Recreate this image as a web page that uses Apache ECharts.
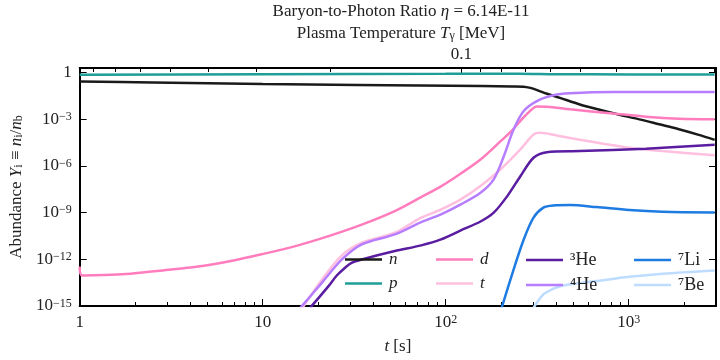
<!DOCTYPE html>
<html>
<head>
<meta charset="utf-8">
<script src="https://cdn.jsdelivr.net/npm/echarts@6/dist/echarts.min.js"></script>
<style>html,body{margin:0;padding:0;background:#fff}#chart{width:720px;height:360px}</style>
</head>
<body>
<div id="chart"></div>
<script>
// abundances Y_i, time in seconds
var nTime = [1, 2.5, 10, 107, 230, 266, 290, 316, 358, 421, 541, 694, 891, 1143, 1467, 1882, 2415, 2950];
var nVal = [0.276, 0.238, 0.185, 0.146, 0.13, 0.126, 0.105, 0.076, 0.044, 0.024, 9.1e-3, 4.1e-3, 1.95e-3, 1.0e-3, 4.8e-4, 2.3e-4, 1.0e-4, 4.8e-5];
var pTime = [1, 10, 100, 250, 400, 1000, 2950];
var pVal = [0.74, 0.8, 0.84, 0.86, 0.8, 0.77, 0.77];
var dTime = [1, 1.03, 1.9, 2.9, 4.35, 6.6, 10, 15.1, 22.9, 34.8, 52.7, 73.5, 94.3, 121, 155, 199, 230, 256, 290, 315, 357, 477, 819, 1242, 1882, 2950];
var dVal = [3.5e-13, 9.3e-14, 1.2e-13, 2.0e-13, 3.3e-13, 7.6e-13, 2.2e-12, 7.1e-12, 3.1e-11, 1.7e-10, 1.26e-9, 1.0e-8, 4.9e-8, 3.3e-7, 2.6e-6, 3.8e-5, 1.9e-4, 8.0e-4, 3.6e-3, 6.6e-3, 6.5e-3, 4.4e-3, 2.4e-3, 1.48e-3, 1.1e-3, 1.0e-3];
var tTime = [16, 21.1, 27.1, 34.8, 52.7, 73.5, 94.3, 121, 155, 199, 256, 302, 328, 439, 666, 1009, 1528, 2950];
var tVal = [4.4e-16, 5.1e-14, 1.8e-12, 1.17e-11, 5.1e-11, 4.8e-10, 1.6e-9, 7.1e-9, 5.1e-8, 6.0e-7, 1.17e-5, 1.07e-4, 1.38e-4, 7.6e-5, 3.2e-5, 1.5e-5, 9.1e-6, 4.9e-6];
var he3Time = [18.2, 22.9, 25.4, 28.2, 30.6, 34.8, 52.7, 73.5, 94.3, 121, 155, 183, 217, 256, 302, 357, 541, 1242, 2950];
var he3Val = [7.8e-16, 1.9e-14, 9.1e-14, 2.9e-13, 5.9e-13, 9.8e-13, 3.4e-12, 7.9e-12, 1.9e-11, 7.2e-11, 2.7e-10, 1e-9, 1.16e-8, 2.2e-7, 3.4e-6, 7.8e-6, 9.1e-6, 1.3e-5, 2.3e-5];
var he4Time = [16.1, 21.1, 27.1, 34.8, 52.7, 73.5, 94.3, 121, 155, 183, 208, 235, 267, 315, 388, 477, 819, 2950];
var he4Val = [7.8e-16, 3.2e-14, 9.8e-13, 9.1e-12, 4e-11, 2.5e-10, 7.8e-10, 3.4e-9, 1.9e-8, 1.38e-7, 4.4e-6, 2.2e-4, 3.4e-3, 0.0149, 0.035, 0.047, 0.057, 0.057];
var li7Time = [200, 235, 267, 302, 342, 388, 477, 666, 1009, 1528, 2950];
var li7Val = [5e-16, 2.2e-13, 1.9e-11, 4.8e-10, 2.1e-9, 2.9e-9, 3.1e-9, 2.3e-9, 1.46e-9, 1.14e-9, 1.03e-9];
var be7Time = [298, 342, 388, 439, 666, 1009, 1528, 2950];
var be7Val = [6e-16, 5.5e-15, 1.3e-14, 2.1e-14, 4e-14, 7.6e-14, 1.2e-13, 1.95e-13];

var xMajor = [1, 10, 100, 1000];
var xMinor = [2, 3, 4, 5, 6, 7, 8, 9, 20, 30, 40, 50, 60, 70, 80, 90, 200, 300, 400, 500, 600, 700, 800, 900, 2000];
var yMajor = [1, 1e-3, 1e-6, 1e-9, 1e-12, 1e-15];
// top axis: plasma temperature ticks, placed at the time where T takes that value
var tempMajor = [0.1];
var tempMajorTime = [122];
var tempMinorTime = [1.18, 1.57, 2.15, 3.12, 5.02, 9.28, 23.4, 155, 201, 272, 372, 542, 850, 1511, 2933];

var FONT = 'Liberation Serif';
var rich = {
  sup: { fontSize: 12, fontFamily: FONT, verticalAlign: 'top', lineHeight: 12, color: '#222' },
  sub: { fontSize: 12, fontFamily: FONT, verticalAlign: 'bottom', lineHeight: 12, color: '#222' },
  i: { fontSize: 17, fontFamily: FONT, fontStyle: 'italic', color: '#222' }
};

function pow10(v) {
  var e = Math.round(Math.log10(v));
  if (e === 0) return '1';
  if (e === 1) return '10';
  return '10{sup|' + (e < 0 ? '\u2212' + (-e) : e) + '}';
}

function pairs(xs, ys) {
  return xs.map(function (x, k) { return [x, ys[k]]; });
}

var names = ['n', 'p', 'd', 't', '³He', '⁴He', '⁷Li', '⁷Be'];
var colors = ['#1a1a1a', '#1f9e98', '#ff7dbd', '#ffbfdf', '#5a1ca0', '#b77dff', '#1e7be2', '#bedcff'];
var datasets = [
  pairs(nTime, nVal), pairs(pTime, pVal), pairs(dTime, dVal), pairs(tTime, tVal),
  pairs(he3Time, he3Val), pairs(he4Time, he4Val), pairs(li7Time, li7Val), pairs(be7Time, be7Val)
];

function legend(list, left) {
  return {
    data: list, orient: 'vertical', left: left, top: 246,
    icon: 'path://M0,0h37v2.6h-37z',
    itemWidth: 37, itemHeight: 14, itemGap: 7,
    textStyle: { fontSize: 18, fontFamily: FONT, color: '#222', padding: [0, 0, 0, 2], rich: rich },
    formatter: function (name) { return name.length === 1 ? '{i|' + name + '}' : name; }
  };
}

var logX = { type: 'log', logBase: 10, min: 1, max: 3000, gridIndex: 0 };
var logY = { type: 'log', logBase: 10, min: 1e-15, max: 2 };

var option = {
  animation: false,
  backgroundColor: '#fff',
  title: [
    { text: 'Baryon-to-Photon Ratio {i|η} = 6.14E-11', left: 396, textAlign: 'center', top: -2,
      textStyle: { fontSize: 17, fontWeight: 'normal', fontFamily: FONT, color: '#222', rich: rich } },
    { text: 'Plasma Temperature {i|T}{sub|γ} [MeV]', left: 396, textAlign: 'center', top: 20,
      textStyle: { fontSize: 17, fontWeight: 'normal', fontFamily: FONT, color: '#222', rich: rich } }
  ],
  grid: { left: 75, right: 4, top: 68, bottom: 54, containLabel: false },
  legend: [legend(['n', 'p'], 340), legend(['d', 't'], 431), legend(['³He', '⁴He'], 521), legend(['⁷Li', '⁷Be'], 629)],
  xAxis: [
    Object.assign({}, logX, {
      position: 'bottom',
      name: '{i|t} [s]', nameLocation: 'middle', nameGap: 32,
      nameTextStyle: { fontSize: 17, fontFamily: FONT, color: '#222', rich: rich },
      axisLine: { show: true, lineStyle: { color: '#000', width: 2 } },
      axisTick: { inside: true, length: 7, lineStyle: { color: '#000', width: 1 }, customValues: xMajor },
      axisLabel: { customValues: xMajor, formatter: pow10, fontSize: 17, fontFamily: FONT, color: '#222', margin: 8, rich: rich },
      splitLine: { show: false }
    }),
    Object.assign({}, logX, {
      position: 'bottom',
      axisLine: { show: false },
      axisTick: { inside: true, length: 4, lineStyle: { color: '#000', width: 1 }, customValues: xMinor },
      axisLabel: { show: false },
      splitLine: { show: false }
    }),
    Object.assign({}, logX, {
      position: 'top',
      axisLine: { show: true, lineStyle: { color: '#000', width: 2 } },
      axisTick: { inside: true, length: 4, lineStyle: { color: '#000', width: 1 }, customValues: tempMinorTime },
      axisLabel: { show: false },
      splitLine: { show: false }
    }),
    Object.assign({}, logX, {
      position: 'top',
      axisLine: { show: false },
      axisTick: { inside: true, length: 7, lineStyle: { color: '#000', width: 1 }, customValues: tempMajorTime },
      axisLabel: {
        customValues: tempMajorTime, margin: 5, fontSize: 17, fontFamily: FONT, color: '#222',
        formatter: function (v) { return String(tempMajor[0]); }
      },
      splitLine: { show: false }
    })
  ],
  yAxis: [
    Object.assign({}, logY, {
      position: 'left',
      name: 'Abundance {i|Y}{sub|i} ≡ {i|n}{sub|i}/{i|n}{sub|b}', nameLocation: 'middle', nameGap: 54, nameRotate: 90,
      nameTextStyle: { fontSize: 17, fontFamily: FONT, color: '#222', rich: rich },
      axisLine: { show: true, lineStyle: { color: '#000', width: 2 } },
      axisTick: { inside: true, length: 7, lineStyle: { color: '#000', width: 1 }, customValues: yMajor },
      axisLabel: { customValues: yMajor, formatter: pow10, fontSize: 17, fontFamily: FONT, color: '#222', margin: 8, rich: rich },
      splitLine: { show: false }
    }),
    Object.assign({}, logY, {
      position: 'right',
      axisLine: { show: true, lineStyle: { color: '#000', width: 2 } },
      axisTick: { inside: true, length: 7, lineStyle: { color: '#000', width: 1 }, customValues: yMajor },
      axisLabel: { show: false },
      splitLine: { show: false }
    })
  ],
  series: names.map(function (nm, k) {
    return {
      name: nm, type: 'line', xAxisIndex: 0, yAxisIndex: 0,
      data: datasets[k], showSymbol: false, symbol: 'none', smooth: 0.3,
      lineStyle: { color: colors[k], width: 2.5 }, itemStyle: { color: colors[k] },
      clip: true
    };
  })
};

var chart = echarts.init(document.getElementById('chart'), null, { renderer: 'canvas' });
chart.setOption(option);
</script>
</body>
</html>
